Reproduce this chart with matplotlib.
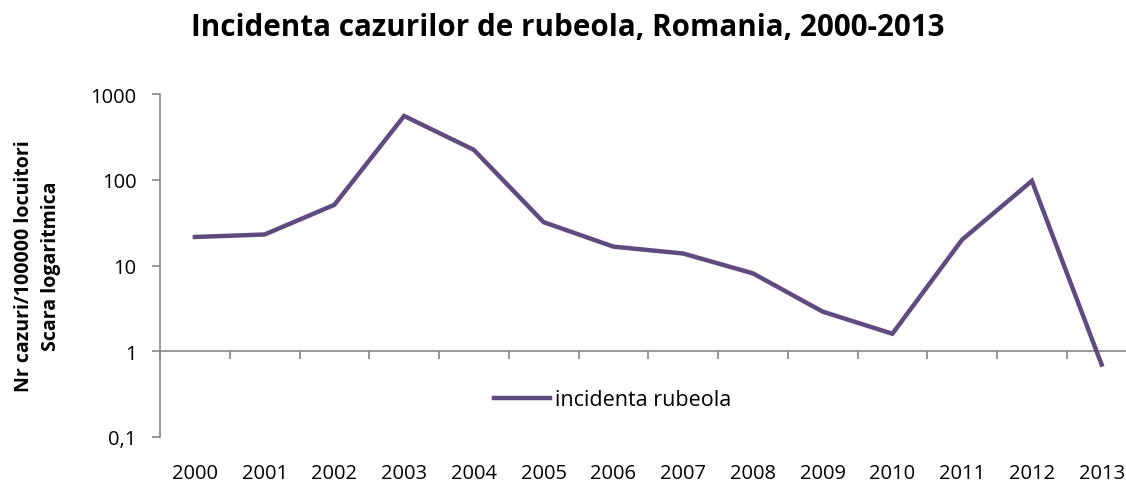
import matplotlib
matplotlib.use("Agg")
import matplotlib.pyplot as plt
from matplotlib.ticker import FixedLocator, NullLocator

plt.rcParams['font.family'] = ['Open Sans', 'DejaVu Sans']

years = ['2000', '2001', '2002', '2003', '2004', '2005', '2006',
         '2007', '2008', '2009', '2010', '2011', '2012', '2013']
incidenta = [21.5, 23, 51, 555, 223, 32, 16.6, 13.8, 8.1, 2.9, 1.6, 20, 97, 0.7]
yticks = [0.1, 1, 10, 100, 1000]
ylabels = ['0,1', '1', '10', '100', '1000']

gray = '#868686'
purple = '#5F4B7F'

fig = plt.figure(figsize=(11.26, 4.85), dpi=100)
# axes runs a bit past the right edge, like the cropped original
ax = fig.add_axes([160 / 1126, (485 - 438) / 485, (1136.5 - 160) / 1126, (438 - 95) / 485])

x = list(range(len(years)))
ax.plot(x, incidenta, color=purple, lw=3.2, solid_joinstyle='miter',
        label='incidenta rubeola', clip_on=False)

ax.set_yscale('log')
ax.set_ylim(0.1, 1000)
ax.set_xlim(-0.5, len(years) - 0.5)
ax.yaxis.set_major_locator(FixedLocator(yticks))
ax.yaxis.set_minor_locator(NullLocator())
ax.set_yticklabels(ylabels)

ax.set_xticks(x)
ax.set_xticklabels(years)
ax.tick_params(axis='x', length=0, pad=19, labelsize=14.5)
ax.tick_params(axis='y', length=6, color=gray, width=1.2, labelsize=14.5, pad=11)

for s in ['top', 'right', 'bottom']:
    ax.spines[s].set_visible(False)
ax.spines['left'].set_color(gray)
ax.spines['left'].set_linewidth(1.2)

# category axis crosses at y = 1
sec = ax.secondary_xaxis(0.25)
sec.set_xticks([i - 0.5 for i in range(len(years) + 1)])
sec.set_xticklabels([])
sec.tick_params(length=6, color=gray, width=1.2)
sec.spines['bottom'].set_color(gray)
sec.spines['bottom'].set_linewidth(1.2)

ax.set_ylabel('Nr cazuri/100000 locuitori\nScara logaritmica', fontsize=14,
              fontweight='bold', labelpad=21, linespacing=1.45)

leg = ax.legend(loc='center left', frameon=False, fontsize=15.5,
                handlelength=2.6, handletextpad=0.25)
leg.set_bbox_to_anchor((497 / 1126 - 0.02, 1 - 401 / 485 - 0.02, 0.3, 0.04),
                       transform=fig.transFigure)

fig.suptitle('Incidenta cazurilor de rubeola, Romania, 2000-2013', x=568 / 1126,
             y=1 - 28 / 485, va='center', fontsize=21.3, fontweight='bold')

fig.savefig('out.png', dpi=100)
